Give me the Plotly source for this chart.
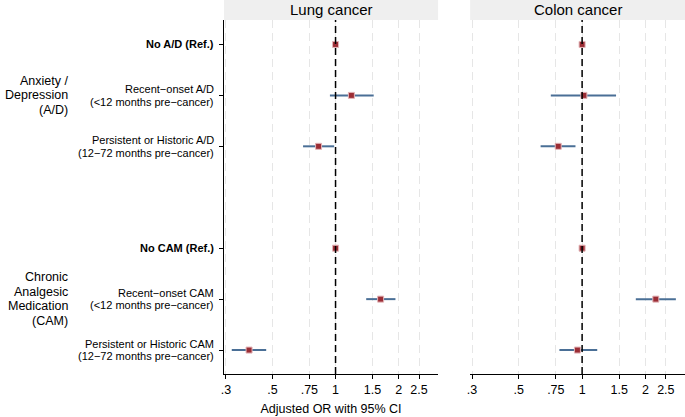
from plotly.subplots import make_subplots
import plotly.graph_objects as go

# rows (top to bottom); position 3 is the empty gap between the two blocks
row_pos = [0, 1, 2, 4, 5, 6]
row_labels = [
    ["<b>No A/D (Ref.)</b>"],
    ["Recent−onset A/D", "(<12 months pre−cancer)"],
    ["Persistent or Historic A/D", "(12−72 months pre−cancer)"],
    ["<b>No CAM (Ref.)</b>"],
    ["Recent−onset CAM", "(<12 months pre−cancer)"],
    ["Persistent or Historic CAM", "(12−72 months pre−cancer)"],
]

panel_titles = ["Lung cancer", "Colon cancer"]

lung_or = [1.0, 1.19, 0.83, 1.0, 1.64, 0.387]
lung_lo = [None, 0.94, 0.70, None, 1.40, 0.32]
lung_hi = [None, 1.52, 0.985, None, 1.93, 0.467]

colon_or = [1.0, 1.02, 0.77, 1.0, 2.24, 0.95]
colon_lo = [None, 0.71, 0.635, None, 1.80, 0.78]
colon_hi = [None, 1.45, 0.93, None, 2.79, 1.18]

tick_vals = [0.3, 0.5, 0.75, 1, 1.5, 2, 2.5]
tick_text = [".3", ".5", ".75", "1", "1.5", "2", "2.5"]

group_labels = [["Anxiety /", "Depression", "(A/D)"],
                ["Chronic", "Analgesic", "Medication", "(CAM)"]]
group_rows = [1, 5]

FONT = "Liberation Sans, Arial, Helvetica, sans-serif"
POINT = "#9b2d35"
CI = "#4a6f96"

fig = make_subplots(rows=1, cols=2)

for i, (est, lo, hi) in enumerate([(lung_or, lung_lo, lung_hi), (colon_or, colon_lo, colon_hi)]):
    plus = [(h - e) if h is not None else 0 for e, h in zip(est, hi)]
    minus = [(e - l) if l is not None else 0 for e, l in zip(est, lo)]
    fig.add_trace(go.Scatter(
        x=est, y=row_pos, mode="markers",
        marker=dict(symbol="square", size=6, color=POINT,
                    line=dict(color="#e3b5b8", width=1)),
        error_x=dict(type="data", symmetric=False, array=plus, arrayminus=minus,
                     color=CI, thickness=2, width=0),
        showlegend=False, hoverinfo="x+y"),
        row=1, col=i + 1)

fig.update_xaxes(type="log", range=[-0.532, 0.489],
                 tickmode="array", tickvals=tick_vals, ticktext=tick_text,
                 ticks="outside", ticklen=4, tickcolor="black",
                 showline=True, linecolor="black", linewidth=1,
                 showgrid=True, gridcolor="#e6e6e6", gridwidth=1, griddash="8px,5px",
                 zeroline=False, tickfont=dict(size=12.5, color="black"))
fig.update_xaxes(domain=[0.324, 0.638], row=1, col=1,
                 title=dict(text="Adjusted OR with 95% CI", font=dict(size=12.5, color="black"),
                            standoff=8))
fig.update_xaxes(domain=[0.685, 1.0], row=1, col=2)

fig.update_yaxes(range=[6.47, -0.48], showgrid=False, zeroline=False)
fig.update_yaxes(row=1, col=1, tickmode="array", tickvals=row_pos,
                 ticktext=["" for _ in row_pos],
                 ticks="outside", ticklen=4, tickcolor="black",
                 showline=True, linecolor="black", linewidth=1)
fig.update_yaxes(row=1, col=2, showticklabels=False, showline=False)

H = 354
for i, xr in enumerate(["x", "x2"]):
    # null line at OR = 1
    fig.add_shape(type="line", xref=xr, yref=f"{'y' if i == 0 else 'y2'} domain",
                  x0=1, x1=1, y0=0, y1=1,
                  line=dict(color="black", width=1.5, dash="7px,4px"))
    # strip header
    fig.add_shape(type="rect", xref=f"{xr} domain", yref="paper",
                  x0=0, x1=1, y0=1, y1=1 + 20 / H,
                  fillcolor="#efefef", line=dict(width=0), layer="below")
    fig.add_annotation(text=panel_titles[i], xref=f"{xr} domain", yref="paper",
                       x=0.5, y=1 + 10 / H, showarrow=False, yanchor="middle",
                       font=dict(size=15, color="black"))

# row labels, one annotation per line for tight line spacing
for lines, r in zip(row_labels, row_pos):
    n = len(lines)
    for k, line in enumerate(lines):
        fig.add_annotation(text=line, xref="paper", yref="y", x=214 / 685, y=r,
                           yshift=(n - 1) * 6.25 - k * 12.5,
                           xanchor="right", yanchor="middle", showarrow=False,
                           font=dict(size=11, color="black"))

for lines, r in zip(group_labels, group_rows):
    n = len(lines)
    for k, line in enumerate(lines):
        fig.add_annotation(text=line, xref="paper", yref="y", x=67 / 685, y=r,
                           yshift=(n - 1) * 7.25 - k * 14.5,
                           xanchor="right", yanchor="middle", showarrow=False,
                           font=dict(size=12.5, color="black"))

fig.update_layout(width=685, height=417, margin=dict(l=0, r=0, t=20, b=43),
                  plot_bgcolor="white", paper_bgcolor="white",
                  font=dict(family=FONT, color="black"))

fig.write_html("out.html", config={"displayModeBar": False},
               post_script="document.body.style.margin='0px';")
